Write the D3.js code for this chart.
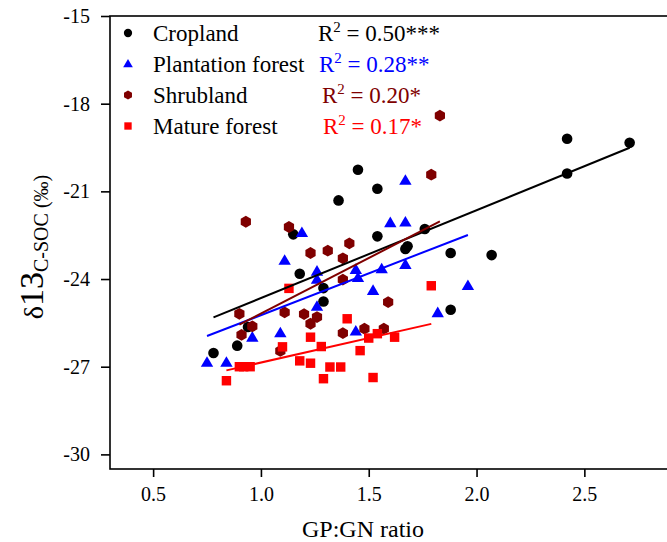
<!DOCTYPE html>
<html>
<head>
<meta charset="utf-8">
<script src="https://cdn.jsdelivr.net/npm/d3@7"></script>
<style>
  body { margin: 0; background: #fff; }
  svg { display: block; }
  text { font-family: "Liberation Serif", "Times New Roman", serif; }
</style>
</head>
<body>
<script>
// categories + legend texts
var categories = ["Cropland", "Plantation forest", "Shrubland", "Mature forest"];
var r2Values = ["0.50***", "0.28**", "0.20*", "0.17*"];
var xTicks = [0.5, 1.0, 1.5, 2.0, 2.5];
var yTicks = [-15, -18, -21, -24, -27, -30];

// [GP:GN ratio, d13C-SOC]
var cropland = [
  [0.78, -26.53], [0.89, -26.28], [0.94, -25.64], [1.18, -23.82], [1.15, -22.47],
  [1.29, -24.31], [1.29, -24.77], [1.36, -21.31], [1.45, -20.26], [1.54, -20.91],
  [1.54, -22.54], [1.67, -22.97], [1.68, -22.88], [1.76, -22.29], [1.88, -23.11],
  [1.88, -25.05], [2.07, -23.18], [2.42, -19.20], [2.42, -20.39], [2.71, -19.34]
];
var plantation = [
  [0.75, -26.86], [0.84, -26.86], [0.96, -26.00], [1.09, -25.85], [1.11, -23.37],
  [1.19, -22.42], [1.26, -23.74], [1.26, -24.02], [1.26, -24.94], [1.44, -23.68],
  [1.45, -23.96], [1.56, -23.66], [1.67, -23.51], [1.52, -24.40], [1.44, -25.79],
  [1.60, -22.08], [1.67, -22.06], [1.67, -20.63], [1.82, -25.16], [1.96, -24.23]
];
var shrubland = [
  [0.90, -25.19], [0.96, -25.62], [0.91, -25.91], [0.93, -22.04], [1.11, -25.14],
  [1.09, -26.46], [1.13, -22.22], [1.20, -25.20], [1.26, -25.30], [1.23, -25.53],
  [1.23, -23.11], [1.31, -23.03], [1.38, -23.29], [1.41, -22.78], [1.38, -24.02],
  [1.38, -25.85], [1.48, -25.70], [1.57, -25.70], [1.59, -24.79], [1.79, -20.43],
  [1.83, -18.41]
];
var mature = [
  [0.84, -27.48], [0.90, -27.00], [0.92, -27.00], [0.95, -27.00], [1.10, -26.32],
  [1.13, -24.32], [1.18, -26.80], [1.23, -25.99], [1.28, -26.31], [1.23, -26.88],
  [1.29, -27.41], [1.32, -27.01], [1.37, -27.01], [1.40, -25.36], [1.46, -26.45],
  [1.50, -26.02], [1.52, -27.37], [1.54, -25.87], [1.62, -25.99], [1.79, -24.23]
];

var seriesData = [cropland, plantation, shrubland, mature];
var colors = ["#000000", "#0000ff", "#7f0000", "#ff0000"];
var shapes = ["circle", "triangle", "hexagon", "square"];

var width = 667, height = 542;
var margin = { left: 110, top: 16, bottom: 469 };

var svg = d3.select("body").append("svg")
  .attr("width", width)
  .attr("height", height);

var x = d3.scaleLinear().domain([0.3, 2.9]).range([110, 670.6]);
var y = d3.scaleLinear().domain([-30.5, -15]).range([469, 16]);

// marker path, centred on 0,0
var shapePath = function(shape, s){
  var p = d3.path();
  if(shape === "circle"){
    p.arc(0, 0, s * 0.45, 0, Math.PI * 2);
  } else if(shape === "triangle"){
    var w = s * 1.05, h = s * 0.9;
    p.moveTo(0, -h * 0.6); p.lineTo(w / 2, h * 0.4); p.lineTo(-w / 2, h * 0.4); p.closePath();
  } else if(shape === "hexagon"){
    var r = s * 0.5;
    for(var i = 0; i < 6; i++){
      var a = -Math.PI / 2 + i * Math.PI / 3;
      if(i === 0) p.moveTo(r * Math.cos(a), r * Math.sin(a));
      else p.lineTo(r * Math.cos(a), r * Math.sin(a));
    }
    p.closePath();
  } else {
    var h2 = s * 0.4;
    p.rect(-h2, -h2, h2 * 2, h2 * 2);
  }
  return p.toString();
};

// axes
var yAxis = d3.axisLeft(y).tickValues(yTicks).tickSize(9).tickPadding(11)
  .tickFormat(function(d){ return String(d); });
var xAxis = d3.axisBottom(x).tickValues(xTicks).tickSize(8).tickPadding(10)
  .tickFormat(d3.format(".1f"));

var gy = svg.append("g").attr("transform", "translate(110,0)").call(yAxis);
var gx = svg.append("g").attr("transform", "translate(0,469)").call(xAxis);
[gx, gy].forEach(function(g){
  g.select(".domain").remove();
  g.selectAll("line").attr("stroke", "#000").attr("stroke-width", 1.6);
  g.selectAll("text").attr("font-size", 20).attr("fill", "#000")
    .style("font-family", '"Liberation Serif", serif');
});

// frame
svg.append("rect")
  .attr("x", x(0.3)).attr("y", y(-15))
  .attr("width", x(2.9) - x(0.3)).attr("height", y(-30.5) - y(-15))
  .attr("fill", "none").attr("stroke", "#000").attr("stroke-width", 1.6);

// points
seriesData.forEach(function(data, i){
  svg.append("g").selectAll("path").data(data).enter().append("path")
    .attr("d", shapePath(shapes[i], 11.8))
    .attr("transform", function(d){ return "translate(" + x(d[0]) + "," + y(d[1]) + ")"; })
    .attr("fill", colors[i]);
});

// least-squares lines
var fit = function(data){
  var mx = d3.mean(data, function(d){ return d[0]; });
  var my = d3.mean(data, function(d){ return d[1]; });
  var sxy = d3.sum(data, function(d){ return (d[0] - mx) * (d[1] - my); });
  var sxx = d3.sum(data, function(d){ return (d[0] - mx) * (d[0] - mx); });
  var b = sxy / sxx, a = my - b * mx;
  var ext = d3.extent(data, function(d){ return d[0]; });
  return ext.map(function(v){ return [v, a + b * v]; });
};
var line = d3.line().x(function(d){ return x(d[0]); }).y(function(d){ return y(d[1]); });
seriesData.forEach(function(data, i){
  svg.append("path")
    .attr("d", line(fit(data)))
    .attr("stroke", colors[i]).attr("stroke-width", 2).attr("fill", "none");
});

// legend
var legendBase = [41, 72, 103, 134];
var r2X = [318, 319, 322, 323];
categories.forEach(function(c, i){
  svg.append("path")
    .attr("d", shapePath(shapes[i], 9.2))
    .attr("transform", "translate(128," + (legendBase[i] - 8) + ")")
    .attr("fill", colors[i]);
  svg.append("text")
    .attr("x", 153).attr("y", legendBase[i])
    .attr("font-size", 23).attr("fill", "#000")
    .text(c);
  var t = svg.append("text")
    .attr("x", r2X[i]).attr("y", legendBase[i])
    .attr("font-size", 23).attr("fill", colors[i]);
  t.append("tspan").text("R");
  t.append("tspan").attr("font-size", 15).attr("dy", -9).text("2");
  t.append("tspan").attr("dy", 9).text(" = " + r2Values[i]);
});

// axis titles
svg.append("text")
  .attr("x", 363).attr("y", 537)
  .attr("text-anchor", "middle")
  .attr("font-size", 24)
  .text("GP:GN ratio");

var yt = svg.append("text")
  .attr("transform", "translate(43,247) rotate(-90)")
  .attr("text-anchor", "middle")
  .attr("font-size", 28);
yt.append("tspan").text("δ");
yt.append("tspan").attr("font-size", 34).text("13");
yt.append("tspan").attr("font-size", 20).attr("dy", 5).text("C-SOC (‰)");
</script>
</body>
</html>
